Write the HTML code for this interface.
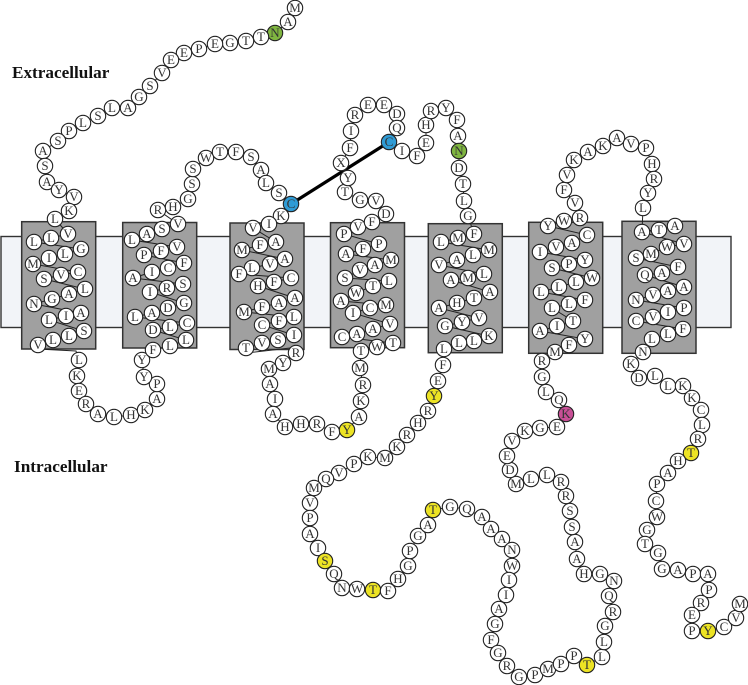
<!DOCTYPE html>
<html><head><meta charset="utf-8"><style>
html,body{margin:0;padding:0;background:#fff;width:748px;height:685px;overflow:hidden}
svg{display:block}
.r circle{fill:#fff;stroke:#222;stroke-width:1.1}
.r text{font:13px "Liberation Serif",serif;fill:#333;text-anchor:middle}
circle.g{fill:#7fb540!important}circle.b{fill:#2f9bd5!important}circle.y{fill:#ece324!important}circle.m{fill:#c84f96!important}
.l{font:bold 17.2px "Liberation Serif",serif;fill:#111}
</style></head><body>
<svg width="748" height="685" viewBox="0 0 748 685" xmlns="http://www.w3.org/2000/svg">
<rect x="1" y="236.5" width="730" height="91" fill="#f2f4f8" stroke="#333" stroke-width="1.4"/>
<g fill="#a0a0a0" stroke="#333" stroke-width="1.5">
<rect x="21.7" y="221.7" width="74" height="127.3"/>
<rect x="122.7" y="222.5" width="74" height="125.5"/>
<rect x="230" y="223" width="74" height="126.5"/>
<rect x="330.5" y="222.7" width="74" height="125"/>
<rect x="428.3" y="223.7" width="74" height="129"/>
<rect x="528.7" y="222.3" width="74" height="131"/>
<rect x="622" y="221.3" width="74" height="132"/>
</g>
<polyline fill="none" stroke="#222" stroke-width="1" points="295,8 288,22 275,33 261,37 246,41 230,43 215,44 199,49 184,53 171,60 162,73 150,86 139,97 128,108 112,108 98,116 83,123 69,131 58,141 43,151 45,166 47,182 59,190 74,197 69,211 55,219 68,234 51,238 34,242 81,249 65,254 49,258 33,264 78,272 61,275 44,279 85,289 69,294 52,299 34,304 81,313 66,316 49,320 84,331 69,336 53,340 38,345 38,349 76,351 79,360 77,376 79,391 86,404 98,414 114,417 131,415 145,410 157,399 157,384 144,377 142,360 153,350 170,346 186,340 153,330 170,327 187,323 135,317 152,313 168,308 184,303 150,292 167,288 183,284 133,278 152,272 168,268 184,263 144,255 161,251 177,247 132,240 147,234 162,229 178,224 158,210 173,207 188,199 192,184 193,169 206,158 220,152 236,152 251,157 261,170 266,183 279,193 291,204 281,216 269,224 253,228 276,242 260,245 242,250 285,259 270,264 252,268 239,274 291,278 274,282 258,286 295,298 279,303 262,307 244,312 294,317 279,321 262,325 294,335 278,340 262,343 246,348 246,353 290,348 296,353 283,363 269,369 270,384 275,399 273,414 285,427 301,424 317,424 332,432 347,430 359,417 361,401 363,385 360,368 361,351 377,347 393,343 342,337 357,334 373,329 390,324 353,313 370,308 386,305 341,301 356,293 373,286 389,281 345,278 360,270 375,265 391,260 346,254 363,249 379,244 344,234 358,227 372,222 386,214 376,201 360,200 345,192 348,178 341,163 350,148 351,131 355,115 368,105 384,105 397,114 397,128 389,142 402,151 417,156 426,143 426,125 431,111 446,108 457,120 458,136 459,151 459,168 463,184 464,201 468,216 474,234 458,238 441,242 489,250 473,255 457,260 439,265 484,274 468,278 451,280 490,292 474,298 457,303 439,308 479,318 462,322 445,326 489,336 474,341 459,343 444,349 443,365 438,381 434,396 428,411 418,423 407,435 397,447 385,458 368,457 354,464 339,473 326,479 314,488 310,503 310,518 310,534 318,548 325,561 334,574 342,588 357,589 373,590 388,591 398,579 408,566 410,551 418,536 428,525 433,510 450,507 467,509 482,517 491,529 502,539 512,550 512,566 509,580 506,595 499,609 495,624 491,640 498,653 507,666 519,677 535,675 548,669 561,664 574,656 587,665 602,657 604,642 605,626 613,612 609,596 614,581 600,574 584,574 577,559 575,542 572,527 570,511 566,496 561,482 547,475 531,479 516,484 510,470 507,456 512,441 525,431 540,428 557,427 566,414 559,400 546,392 542,377 542,361 555,352 569,345 585,339 540,331 557,326 573,321 552,308 569,304 585,300 541,292 559,287 576,282 592,278 552,268 569,264 585,260 540,252 556,247 572,243 587,235 548,226 564,221 580,218 575,203 564,190 567,175 574,160 588,152 603,146 617,138 631,144 646,148 652,164 654,179 648,193 643,208 642,232 659,230 675,226 642,232 684,244 667,247 651,254 636,258 678,267 662,273 645,275 684,287 668,291 653,295 636,300 684,308 668,312 653,317 636,321 683,329 668,334 652,339 643,352 631,364 639,378 655,376 668,386 683,386 692,398 701,410 702,425 698,439 691,453 678,461 668,473 657,484 656,501 657,517 647,530 645,544 658,553 662,569 678,570 693,574 708,574 709,590 701,603 692,615 692,631 708,631 724,627 736,618 740,604"/>
<line x1="291" y1="204" x2="389" y2="142" stroke="#000" stroke-width="3.2"/>
<g class="r">
<circle cx="295" cy="8" r="7.7"/><text x="295" y="12">M</text>
<circle cx="288" cy="22" r="7.7"/><text x="288" y="26">A</text>
<circle class="g" cx="275" cy="33" r="7.7"/><text x="275" y="37">N</text>
<circle cx="261" cy="37" r="7.7"/><text x="261" y="41">T</text>
<circle cx="246" cy="41" r="7.7"/><text x="246" y="45">T</text>
<circle cx="230" cy="43" r="7.7"/><text x="230" y="47">G</text>
<circle cx="215" cy="44" r="7.7"/><text x="215" y="48">E</text>
<circle cx="199" cy="49" r="7.7"/><text x="199" y="53">P</text>
<circle cx="184" cy="53" r="7.7"/><text x="184" y="57">E</text>
<circle cx="171" cy="60" r="7.7"/><text x="171" y="64">E</text>
<circle cx="162" cy="73" r="7.7"/><text x="162" y="77">V</text>
<circle cx="150" cy="86" r="7.7"/><text x="150" y="90">S</text>
<circle cx="139" cy="97" r="7.7"/><text x="139" y="101">G</text>
<circle cx="128" cy="108" r="7.7"/><text x="128" y="112">A</text>
<circle cx="112" cy="108" r="7.7"/><text x="112" y="112">L</text>
<circle cx="98" cy="116" r="7.7"/><text x="98" y="120">S</text>
<circle cx="83" cy="123" r="7.7"/><text x="83" y="127">L</text>
<circle cx="69" cy="131" r="7.7"/><text x="69" y="135">P</text>
<circle cx="58" cy="141" r="7.7"/><text x="58" y="145">S</text>
<circle cx="43" cy="151" r="7.7"/><text x="43" y="155">A</text>
<circle cx="45" cy="166" r="7.7"/><text x="45" y="170">S</text>
<circle cx="47" cy="182" r="7.7"/><text x="47" y="186">A</text>
<circle cx="59" cy="190" r="7.7"/><text x="59" y="194">Y</text>
<circle cx="74" cy="197" r="7.7"/><text x="74" y="201">V</text>
<circle cx="69" cy="211" r="7.7"/><text x="69" y="215">K</text>
<circle cx="55" cy="219" r="7.7"/><text x="55" y="223">L</text>
<circle cx="68" cy="234" r="7.7"/><text x="68" y="238">V</text>
<circle cx="51" cy="238" r="7.7"/><text x="51" y="242">L</text>
<circle cx="34" cy="242" r="7.7"/><text x="34" y="246">L</text>
<circle cx="81" cy="249" r="7.7"/><text x="81" y="253">G</text>
<circle cx="65" cy="254" r="7.7"/><text x="65" y="258">L</text>
<circle cx="49" cy="258" r="7.7"/><text x="49" y="262">I</text>
<circle cx="33" cy="264" r="7.7"/><text x="33" y="268">M</text>
<circle cx="78" cy="272" r="7.7"/><text x="78" y="276">C</text>
<circle cx="61" cy="275" r="7.7"/><text x="61" y="279">V</text>
<circle cx="44" cy="279" r="7.7"/><text x="44" y="283">S</text>
<circle cx="85" cy="289" r="7.7"/><text x="85" y="293">L</text>
<circle cx="69" cy="294" r="7.7"/><text x="69" y="298">A</text>
<circle cx="52" cy="299" r="7.7"/><text x="52" y="303">G</text>
<circle cx="34" cy="304" r="7.7"/><text x="34" y="308">N</text>
<circle cx="81" cy="313" r="7.7"/><text x="81" y="317">A</text>
<circle cx="66" cy="316" r="7.7"/><text x="66" y="320">I</text>
<circle cx="49" cy="320" r="7.7"/><text x="49" y="324">L</text>
<circle cx="84" cy="331" r="7.7"/><text x="84" y="335">S</text>
<circle cx="69" cy="336" r="7.7"/><text x="69" y="340">L</text>
<circle cx="53" cy="340" r="7.7"/><text x="53" y="344">L</text>
<circle cx="38" cy="345" r="7.7"/><text x="38" y="349">V</text>
<circle cx="79" cy="360" r="7.7"/><text x="79" y="364">L</text>
<circle cx="77" cy="376" r="7.7"/><text x="77" y="380">K</text>
<circle cx="79" cy="391" r="7.7"/><text x="79" y="395">E</text>
<circle cx="86" cy="404" r="7.7"/><text x="86" y="408">R</text>
<circle cx="98" cy="414" r="7.7"/><text x="98" y="418">A</text>
<circle cx="114" cy="417" r="7.7"/><text x="114" y="421">L</text>
<circle cx="131" cy="415" r="7.7"/><text x="131" y="419">H</text>
<circle cx="145" cy="410" r="7.7"/><text x="145" y="414">K</text>
<circle cx="157" cy="399" r="7.7"/><text x="157" y="403">A</text>
<circle cx="157" cy="384" r="7.7"/><text x="157" y="388">P</text>
<circle cx="144" cy="377" r="7.7"/><text x="144" y="381">Y</text>
<circle cx="142" cy="360" r="7.7"/><text x="142" y="364">Y</text>
<circle cx="153" cy="350" r="7.7"/><text x="153" y="354">F</text>
<circle cx="170" cy="346" r="7.7"/><text x="170" y="350">L</text>
<circle cx="186" cy="340" r="7.7"/><text x="186" y="344">L</text>
<circle cx="153" cy="330" r="7.7"/><text x="153" y="334">D</text>
<circle cx="170" cy="327" r="7.7"/><text x="170" y="331">L</text>
<circle cx="187" cy="323" r="7.7"/><text x="187" y="327">C</text>
<circle cx="135" cy="317" r="7.7"/><text x="135" y="321">L</text>
<circle cx="152" cy="313" r="7.7"/><text x="152" y="317">A</text>
<circle cx="168" cy="308" r="7.7"/><text x="168" y="312">D</text>
<circle cx="184" cy="303" r="7.7"/><text x="184" y="307">G</text>
<circle cx="150" cy="292" r="7.7"/><text x="150" y="296">I</text>
<circle cx="167" cy="288" r="7.7"/><text x="167" y="292">R</text>
<circle cx="183" cy="284" r="7.7"/><text x="183" y="288">S</text>
<circle cx="133" cy="278" r="7.7"/><text x="133" y="282">A</text>
<circle cx="152" cy="272" r="7.7"/><text x="152" y="276">I</text>
<circle cx="168" cy="268" r="7.7"/><text x="168" y="272">C</text>
<circle cx="184" cy="263" r="7.7"/><text x="184" y="267">F</text>
<circle cx="144" cy="255" r="7.7"/><text x="144" y="259">P</text>
<circle cx="161" cy="251" r="7.7"/><text x="161" y="255">F</text>
<circle cx="177" cy="247" r="7.7"/><text x="177" y="251">V</text>
<circle cx="132" cy="240" r="7.7"/><text x="132" y="244">L</text>
<circle cx="147" cy="234" r="7.7"/><text x="147" y="238">A</text>
<circle cx="162" cy="229" r="7.7"/><text x="162" y="233">S</text>
<circle cx="178" cy="224" r="7.7"/><text x="178" y="228">V</text>
<circle cx="158" cy="210" r="7.7"/><text x="158" y="214">R</text>
<circle cx="173" cy="207" r="7.7"/><text x="173" y="211">H</text>
<circle cx="188" cy="199" r="7.7"/><text x="188" y="203">G</text>
<circle cx="192" cy="184" r="7.7"/><text x="192" y="188">S</text>
<circle cx="193" cy="169" r="7.7"/><text x="193" y="173">S</text>
<circle cx="206" cy="158" r="7.7"/><text x="206" y="162">W</text>
<circle cx="220" cy="152" r="7.7"/><text x="220" y="156">T</text>
<circle cx="236" cy="152" r="7.7"/><text x="236" y="156">F</text>
<circle cx="251" cy="157" r="7.7"/><text x="251" y="161">S</text>
<circle cx="261" cy="170" r="7.7"/><text x="261" y="174">A</text>
<circle cx="266" cy="183" r="7.7"/><text x="266" y="187">L</text>
<circle cx="279" cy="193" r="7.7"/><text x="279" y="197">S</text>
<circle class="b" cx="291" cy="204" r="7.7"/><text x="291" y="208">C</text>
<circle cx="281" cy="216" r="7.7"/><text x="281" y="220">K</text>
<circle cx="269" cy="224" r="7.7"/><text x="269" y="228">I</text>
<circle cx="253" cy="228" r="7.7"/><text x="253" y="232">V</text>
<circle cx="276" cy="242" r="7.7"/><text x="276" y="246">A</text>
<circle cx="260" cy="245" r="7.7"/><text x="260" y="249">F</text>
<circle cx="242" cy="250" r="7.7"/><text x="242" y="254">M</text>
<circle cx="285" cy="259" r="7.7"/><text x="285" y="263">A</text>
<circle cx="270" cy="264" r="7.7"/><text x="270" y="268">V</text>
<circle cx="252" cy="268" r="7.7"/><text x="252" y="272">L</text>
<circle cx="239" cy="274" r="7.7"/><text x="239" y="278">F</text>
<circle cx="291" cy="278" r="7.7"/><text x="291" y="282">C</text>
<circle cx="274" cy="282" r="7.7"/><text x="274" y="286">F</text>
<circle cx="258" cy="286" r="7.7"/><text x="258" y="290">H</text>
<circle cx="295" cy="298" r="7.7"/><text x="295" y="302">A</text>
<circle cx="279" cy="303" r="7.7"/><text x="279" y="307">A</text>
<circle cx="262" cy="307" r="7.7"/><text x="262" y="311">F</text>
<circle cx="244" cy="312" r="7.7"/><text x="244" y="316">M</text>
<circle cx="294" cy="317" r="7.7"/><text x="294" y="321">L</text>
<circle cx="279" cy="321" r="7.7"/><text x="279" y="325">F</text>
<circle cx="262" cy="325" r="7.7"/><text x="262" y="329">C</text>
<circle cx="294" cy="335" r="7.7"/><text x="294" y="339">I</text>
<circle cx="278" cy="340" r="7.7"/><text x="278" y="344">S</text>
<circle cx="262" cy="343" r="7.7"/><text x="262" y="347">V</text>
<circle cx="246" cy="348" r="7.7"/><text x="246" y="352">T</text>
<circle cx="296" cy="353" r="7.7"/><text x="296" y="357">R</text>
<circle cx="283" cy="363" r="7.7"/><text x="283" y="367">Y</text>
<circle cx="269" cy="369" r="7.7"/><text x="269" y="373">M</text>
<circle cx="270" cy="384" r="7.7"/><text x="270" y="388">A</text>
<circle cx="275" cy="399" r="7.7"/><text x="275" y="403">I</text>
<circle cx="273" cy="414" r="7.7"/><text x="273" y="418">A</text>
<circle cx="285" cy="427" r="7.7"/><text x="285" y="431">H</text>
<circle cx="301" cy="424" r="7.7"/><text x="301" y="428">H</text>
<circle cx="317" cy="424" r="7.7"/><text x="317" y="428">R</text>
<circle cx="332" cy="432" r="7.7"/><text x="332" y="436">F</text>
<circle class="y" cx="347" cy="430" r="7.7"/><text x="347" y="434">Y</text>
<circle cx="359" cy="417" r="7.7"/><text x="359" y="421">A</text>
<circle cx="361" cy="401" r="7.7"/><text x="361" y="405">K</text>
<circle cx="363" cy="385" r="7.7"/><text x="363" y="389">R</text>
<circle cx="360" cy="368" r="7.7"/><text x="360" y="372">M</text>
<circle cx="361" cy="351" r="7.7"/><text x="361" y="355">T</text>
<circle cx="377" cy="347" r="7.7"/><text x="377" y="351">W</text>
<circle cx="393" cy="343" r="7.7"/><text x="393" y="347">T</text>
<circle cx="342" cy="337" r="7.7"/><text x="342" y="341">C</text>
<circle cx="357" cy="334" r="7.7"/><text x="357" y="338">A</text>
<circle cx="373" cy="329" r="7.7"/><text x="373" y="333">A</text>
<circle cx="390" cy="324" r="7.7"/><text x="390" y="328">V</text>
<circle cx="353" cy="313" r="7.7"/><text x="353" y="317">I</text>
<circle cx="370" cy="308" r="7.7"/><text x="370" y="312">C</text>
<circle cx="386" cy="305" r="7.7"/><text x="386" y="309">M</text>
<circle cx="341" cy="301" r="7.7"/><text x="341" y="305">A</text>
<circle cx="356" cy="293" r="7.7"/><text x="356" y="297">W</text>
<circle cx="373" cy="286" r="7.7"/><text x="373" y="290">T</text>
<circle cx="389" cy="281" r="7.7"/><text x="389" y="285">L</text>
<circle cx="345" cy="278" r="7.7"/><text x="345" y="282">S</text>
<circle cx="360" cy="270" r="7.7"/><text x="360" y="274">V</text>
<circle cx="375" cy="265" r="7.7"/><text x="375" y="269">A</text>
<circle cx="391" cy="260" r="7.7"/><text x="391" y="264">M</text>
<circle cx="346" cy="254" r="7.7"/><text x="346" y="258">A</text>
<circle cx="363" cy="249" r="7.7"/><text x="363" y="253">F</text>
<circle cx="379" cy="244" r="7.7"/><text x="379" y="248">P</text>
<circle cx="344" cy="234" r="7.7"/><text x="344" y="238">P</text>
<circle cx="358" cy="227" r="7.7"/><text x="358" y="231">V</text>
<circle cx="372" cy="222" r="7.7"/><text x="372" y="226">F</text>
<circle cx="386" cy="214" r="7.7"/><text x="386" y="218">D</text>
<circle cx="376" cy="201" r="7.7"/><text x="376" y="205">V</text>
<circle cx="360" cy="200" r="7.7"/><text x="360" y="204">G</text>
<circle cx="345" cy="192" r="7.7"/><text x="345" y="196">T</text>
<circle cx="348" cy="178" r="7.7"/><text x="348" y="182">Y</text>
<circle cx="341" cy="163" r="7.7"/><text x="341" y="167">X</text>
<circle cx="350" cy="148" r="7.7"/><text x="350" y="152">F</text>
<circle cx="351" cy="131" r="7.7"/><text x="351" y="135">I</text>
<circle cx="355" cy="115" r="7.7"/><text x="355" y="119">R</text>
<circle cx="368" cy="105" r="7.7"/><text x="368" y="109">E</text>
<circle cx="384" cy="105" r="7.7"/><text x="384" y="109">E</text>
<circle cx="397" cy="114" r="7.7"/><text x="397" y="118">D</text>
<circle cx="397" cy="128" r="7.7"/><text x="397" y="132">Q</text>
<circle class="b" cx="389" cy="142" r="7.7"/><text x="389" y="146">C</text>
<circle cx="402" cy="151" r="7.7"/><text x="402" y="155">I</text>
<circle cx="417" cy="156" r="7.7"/><text x="417" y="160">F</text>
<circle cx="426" cy="143" r="7.7"/><text x="426" y="147">E</text>
<circle cx="426" cy="125" r="7.7"/><text x="426" y="129">H</text>
<circle cx="431" cy="111" r="7.7"/><text x="431" y="115">R</text>
<circle cx="446" cy="108" r="7.7"/><text x="446" y="112">Y</text>
<circle cx="457" cy="120" r="7.7"/><text x="457" y="124">F</text>
<circle cx="458" cy="136" r="7.7"/><text x="458" y="140">A</text>
<circle class="g" cx="459" cy="151" r="7.7"/><text x="459" y="155">N</text>
<circle cx="459" cy="168" r="7.7"/><text x="459" y="172">D</text>
<circle cx="463" cy="184" r="7.7"/><text x="463" y="188">T</text>
<circle cx="464" cy="201" r="7.7"/><text x="464" y="205">L</text>
<circle cx="468" cy="216" r="7.7"/><text x="468" y="220">G</text>
<circle cx="474" cy="234" r="7.7"/><text x="474" y="238">F</text>
<circle cx="458" cy="238" r="7.7"/><text x="458" y="242">M</text>
<circle cx="441" cy="242" r="7.7"/><text x="441" y="246">L</text>
<circle cx="489" cy="250" r="7.7"/><text x="489" y="254">M</text>
<circle cx="473" cy="255" r="7.7"/><text x="473" y="259">L</text>
<circle cx="457" cy="260" r="7.7"/><text x="457" y="264">A</text>
<circle cx="439" cy="265" r="7.7"/><text x="439" y="269">V</text>
<circle cx="484" cy="274" r="7.7"/><text x="484" y="278">L</text>
<circle cx="468" cy="278" r="7.7"/><text x="468" y="282">M</text>
<circle cx="451" cy="280" r="7.7"/><text x="451" y="284">A</text>
<circle cx="490" cy="292" r="7.7"/><text x="490" y="296">A</text>
<circle cx="474" cy="298" r="7.7"/><text x="474" y="302">T</text>
<circle cx="457" cy="303" r="7.7"/><text x="457" y="307">H</text>
<circle cx="439" cy="308" r="7.7"/><text x="439" y="312">A</text>
<circle cx="479" cy="318" r="7.7"/><text x="479" y="322">V</text>
<circle cx="462" cy="322" r="7.7"/><text x="462" y="326">Y</text>
<circle cx="445" cy="326" r="7.7"/><text x="445" y="330">G</text>
<circle cx="489" cy="336" r="7.7"/><text x="489" y="340">K</text>
<circle cx="474" cy="341" r="7.7"/><text x="474" y="345">L</text>
<circle cx="459" cy="343" r="7.7"/><text x="459" y="347">L</text>
<circle cx="444" cy="349" r="7.7"/><text x="444" y="353">L</text>
<circle cx="443" cy="365" r="7.7"/><text x="443" y="369">F</text>
<circle cx="438" cy="381" r="7.7"/><text x="438" y="385">E</text>
<circle class="y" cx="434" cy="396" r="7.7"/><text x="434" y="400">Y</text>
<circle cx="428" cy="411" r="7.7"/><text x="428" y="415">R</text>
<circle cx="418" cy="423" r="7.7"/><text x="418" y="427">H</text>
<circle cx="407" cy="435" r="7.7"/><text x="407" y="439">R</text>
<circle cx="397" cy="447" r="7.7"/><text x="397" y="451">K</text>
<circle cx="385" cy="458" r="7.7"/><text x="385" y="462">M</text>
<circle cx="368" cy="457" r="7.7"/><text x="368" y="461">K</text>
<circle cx="354" cy="464" r="7.7"/><text x="354" y="468">P</text>
<circle cx="339" cy="473" r="7.7"/><text x="339" y="477">V</text>
<circle cx="326" cy="479" r="7.7"/><text x="326" y="483">Q</text>
<circle cx="314" cy="488" r="7.7"/><text x="314" y="492">M</text>
<circle cx="310" cy="503" r="7.7"/><text x="310" y="507">V</text>
<circle cx="310" cy="518" r="7.7"/><text x="310" y="522">P</text>
<circle cx="310" cy="534" r="7.7"/><text x="310" y="538">A</text>
<circle cx="318" cy="548" r="7.7"/><text x="318" y="552">I</text>
<circle class="y" cx="325" cy="561" r="7.7"/><text x="325" y="565">S</text>
<circle cx="334" cy="574" r="7.7"/><text x="334" y="578">Q</text>
<circle cx="342" cy="588" r="7.7"/><text x="342" y="592">N</text>
<circle cx="357" cy="589" r="7.7"/><text x="357" y="593">W</text>
<circle class="y" cx="373" cy="590" r="7.7"/><text x="373" y="594">T</text>
<circle cx="388" cy="591" r="7.7"/><text x="388" y="595">F</text>
<circle cx="398" cy="579" r="7.7"/><text x="398" y="583">H</text>
<circle cx="408" cy="566" r="7.7"/><text x="408" y="570">G</text>
<circle cx="410" cy="551" r="7.7"/><text x="410" y="555">P</text>
<circle cx="418" cy="536" r="7.7"/><text x="418" y="540">G</text>
<circle cx="428" cy="525" r="7.7"/><text x="428" y="529">A</text>
<circle class="y" cx="433" cy="510" r="7.7"/><text x="433" y="514">T</text>
<circle cx="450" cy="507" r="7.7"/><text x="450" y="511">G</text>
<circle cx="467" cy="509" r="7.7"/><text x="467" y="513">Q</text>
<circle cx="482" cy="517" r="7.7"/><text x="482" y="521">A</text>
<circle cx="491" cy="529" r="7.7"/><text x="491" y="533">A</text>
<circle cx="502" cy="539" r="7.7"/><text x="502" y="543">A</text>
<circle cx="512" cy="550" r="7.7"/><text x="512" y="554">N</text>
<circle cx="512" cy="566" r="7.7"/><text x="512" y="570">W</text>
<circle cx="509" cy="580" r="7.7"/><text x="509" y="584">I</text>
<circle cx="506" cy="595" r="7.7"/><text x="506" y="599">I</text>
<circle cx="499" cy="609" r="7.7"/><text x="499" y="613">A</text>
<circle cx="495" cy="624" r="7.7"/><text x="495" y="628">G</text>
<circle cx="491" cy="640" r="7.7"/><text x="491" y="644">F</text>
<circle cx="498" cy="653" r="7.7"/><text x="498" y="657">G</text>
<circle cx="507" cy="666" r="7.7"/><text x="507" y="670">R</text>
<circle cx="519" cy="677" r="7.7"/><text x="519" y="681">G</text>
<circle cx="535" cy="675" r="7.7"/><text x="535" y="679">P</text>
<circle cx="548" cy="669" r="7.7"/><text x="548" y="673">M</text>
<circle cx="561" cy="664" r="7.7"/><text x="561" y="668">P</text>
<circle cx="574" cy="656" r="7.7"/><text x="574" y="660">P</text>
<circle class="y" cx="587" cy="665" r="7.7"/><text x="587" y="669">T</text>
<circle cx="602" cy="657" r="7.7"/><text x="602" y="661">L</text>
<circle cx="604" cy="642" r="7.7"/><text x="604" y="646">L</text>
<circle cx="605" cy="626" r="7.7"/><text x="605" y="630">G</text>
<circle cx="613" cy="612" r="7.7"/><text x="613" y="616">R</text>
<circle cx="609" cy="596" r="7.7"/><text x="609" y="600">Q</text>
<circle cx="614" cy="581" r="7.7"/><text x="614" y="585">N</text>
<circle cx="600" cy="574" r="7.7"/><text x="600" y="578">G</text>
<circle cx="584" cy="574" r="7.7"/><text x="584" y="578">H</text>
<circle cx="577" cy="559" r="7.7"/><text x="577" y="563">A</text>
<circle cx="575" cy="542" r="7.7"/><text x="575" y="546">A</text>
<circle cx="572" cy="527" r="7.7"/><text x="572" y="531">S</text>
<circle cx="570" cy="511" r="7.7"/><text x="570" y="515">S</text>
<circle cx="566" cy="496" r="7.7"/><text x="566" y="500">R</text>
<circle cx="561" cy="482" r="7.7"/><text x="561" y="486">R</text>
<circle cx="547" cy="475" r="7.7"/><text x="547" y="479">L</text>
<circle cx="531" cy="479" r="7.7"/><text x="531" y="483">L</text>
<circle cx="516" cy="484" r="7.7"/><text x="516" y="488">M</text>
<circle cx="510" cy="470" r="7.7"/><text x="510" y="474">D</text>
<circle cx="507" cy="456" r="7.7"/><text x="507" y="460">E</text>
<circle cx="512" cy="441" r="7.7"/><text x="512" y="445">V</text>
<circle cx="525" cy="431" r="7.7"/><text x="525" y="435">K</text>
<circle cx="540" cy="428" r="7.7"/><text x="540" y="432">G</text>
<circle cx="557" cy="427" r="7.7"/><text x="557" y="431">E</text>
<circle class="m" cx="566" cy="414" r="7.7"/><text x="566" y="418">K</text>
<circle cx="559" cy="400" r="7.7"/><text x="559" y="404">Q</text>
<circle cx="546" cy="392" r="7.7"/><text x="546" y="396">L</text>
<circle cx="542" cy="377" r="7.7"/><text x="542" y="381">G</text>
<circle cx="542" cy="361" r="7.7"/><text x="542" y="365">R</text>
<circle cx="555" cy="352" r="7.7"/><text x="555" y="356">M</text>
<circle cx="569" cy="345" r="7.7"/><text x="569" y="349">F</text>
<circle cx="585" cy="339" r="7.7"/><text x="585" y="343">Y</text>
<circle cx="540" cy="331" r="7.7"/><text x="540" y="335">A</text>
<circle cx="557" cy="326" r="7.7"/><text x="557" y="330">I</text>
<circle cx="573" cy="321" r="7.7"/><text x="573" y="325">T</text>
<circle cx="552" cy="308" r="7.7"/><text x="552" y="312">L</text>
<circle cx="569" cy="304" r="7.7"/><text x="569" y="308">L</text>
<circle cx="585" cy="300" r="7.7"/><text x="585" y="304">F</text>
<circle cx="541" cy="292" r="7.7"/><text x="541" y="296">L</text>
<circle cx="559" cy="287" r="7.7"/><text x="559" y="291">L</text>
<circle cx="576" cy="282" r="7.7"/><text x="576" y="286">L</text>
<circle cx="592" cy="278" r="7.7"/><text x="592" y="282">W</text>
<circle cx="552" cy="268" r="7.7"/><text x="552" y="272">S</text>
<circle cx="569" cy="264" r="7.7"/><text x="569" y="268">P</text>
<circle cx="585" cy="260" r="7.7"/><text x="585" y="264">Y</text>
<circle cx="540" cy="252" r="7.7"/><text x="540" y="256">I</text>
<circle cx="556" cy="247" r="7.7"/><text x="556" y="251">V</text>
<circle cx="572" cy="243" r="7.7"/><text x="572" y="247">A</text>
<circle cx="587" cy="235" r="7.7"/><text x="587" y="239">C</text>
<circle cx="548" cy="226" r="7.7"/><text x="548" y="230">Y</text>
<circle cx="564" cy="221" r="7.7"/><text x="564" y="225">W</text>
<circle cx="580" cy="218" r="7.7"/><text x="580" y="222">R</text>
<circle cx="575" cy="203" r="7.7"/><text x="575" y="207">V</text>
<circle cx="564" cy="190" r="7.7"/><text x="564" y="194">F</text>
<circle cx="567" cy="175" r="7.7"/><text x="567" y="179">V</text>
<circle cx="574" cy="160" r="7.7"/><text x="574" y="164">K</text>
<circle cx="588" cy="152" r="7.7"/><text x="588" y="156">A</text>
<circle cx="603" cy="146" r="7.7"/><text x="603" y="150">K</text>
<circle cx="617" cy="138" r="7.7"/><text x="617" y="142">A</text>
<circle cx="631" cy="144" r="7.7"/><text x="631" y="148">V</text>
<circle cx="646" cy="148" r="7.7"/><text x="646" y="152">P</text>
<circle cx="652" cy="164" r="7.7"/><text x="652" y="168">H</text>
<circle cx="654" cy="179" r="7.7"/><text x="654" y="183">R</text>
<circle cx="648" cy="193" r="7.7"/><text x="648" y="197">Y</text>
<circle cx="643" cy="208" r="7.7"/><text x="643" y="212">L</text>
<circle cx="642" cy="232" r="7.7"/><text x="642" y="236">A</text>
<circle cx="659" cy="230" r="7.7"/><text x="659" y="234">T</text>
<circle cx="675" cy="226" r="7.7"/><text x="675" y="230">A</text>
<circle cx="636" cy="258" r="7.7"/><text x="636" y="262">S</text>
<circle cx="651" cy="254" r="7.7"/><text x="651" y="258">M</text>
<circle cx="667" cy="247" r="7.7"/><text x="667" y="251">W</text>
<circle cx="684" cy="244" r="7.7"/><text x="684" y="248">V</text>
<circle cx="645" cy="275" r="7.7"/><text x="645" y="279">Q</text>
<circle cx="662" cy="273" r="7.7"/><text x="662" y="277">A</text>
<circle cx="678" cy="267" r="7.7"/><text x="678" y="271">F</text>
<circle cx="684" cy="287" r="7.7"/><text x="684" y="291">A</text>
<circle cx="668" cy="291" r="7.7"/><text x="668" y="295">A</text>
<circle cx="653" cy="295" r="7.7"/><text x="653" y="299">V</text>
<circle cx="636" cy="300" r="7.7"/><text x="636" y="304">N</text>
<circle cx="684" cy="308" r="7.7"/><text x="684" y="312">P</text>
<circle cx="668" cy="312" r="7.7"/><text x="668" y="316">I</text>
<circle cx="653" cy="317" r="7.7"/><text x="653" y="321">V</text>
<circle cx="636" cy="321" r="7.7"/><text x="636" y="325">C</text>
<circle cx="683" cy="329" r="7.7"/><text x="683" y="333">F</text>
<circle cx="668" cy="334" r="7.7"/><text x="668" y="338">L</text>
<circle cx="652" cy="339" r="7.7"/><text x="652" y="343">L</text>
<circle cx="643" cy="352" r="7.7"/><text x="643" y="356">N</text>
<circle cx="631" cy="364" r="7.7"/><text x="631" y="368">K</text>
<circle cx="639" cy="378" r="7.7"/><text x="639" y="382">D</text>
<circle cx="655" cy="376" r="7.7"/><text x="655" y="380">L</text>
<circle cx="668" cy="386" r="7.7"/><text x="668" y="390">L</text>
<circle cx="683" cy="386" r="7.7"/><text x="683" y="390">K</text>
<circle cx="692" cy="398" r="7.7"/><text x="692" y="402">K</text>
<circle cx="701" cy="410" r="7.7"/><text x="701" y="414">C</text>
<circle cx="702" cy="425" r="7.7"/><text x="702" y="429">L</text>
<circle cx="698" cy="439" r="7.7"/><text x="698" y="443">R</text>
<circle class="y" cx="691" cy="453" r="7.7"/><text x="691" y="457">T</text>
<circle cx="678" cy="461" r="7.7"/><text x="678" y="465">H</text>
<circle cx="668" cy="473" r="7.7"/><text x="668" y="477">A</text>
<circle cx="657" cy="484" r="7.7"/><text x="657" y="488">P</text>
<circle cx="656" cy="501" r="7.7"/><text x="656" y="505">C</text>
<circle cx="657" cy="517" r="7.7"/><text x="657" y="521">W</text>
<circle cx="647" cy="530" r="7.7"/><text x="647" y="534">G</text>
<circle cx="645" cy="544" r="7.7"/><text x="645" y="548">T</text>
<circle cx="658" cy="553" r="7.7"/><text x="658" y="557">G</text>
<circle cx="662" cy="569" r="7.7"/><text x="662" y="573">G</text>
<circle cx="678" cy="570" r="7.7"/><text x="678" y="574">A</text>
<circle cx="693" cy="574" r="7.7"/><text x="693" y="578">P</text>
<circle cx="708" cy="574" r="7.7"/><text x="708" y="578">A</text>
<circle cx="709" cy="590" r="7.7"/><text x="709" y="594">P</text>
<circle cx="701" cy="603" r="7.7"/><text x="701" y="607">R</text>
<circle cx="692" cy="615" r="7.7"/><text x="692" y="619">E</text>
<circle cx="692" cy="631" r="7.7"/><text x="692" y="635">P</text>
<circle class="y" cx="708" cy="631" r="7.7"/><text x="708" y="635">Y</text>
<circle cx="724" cy="627" r="7.7"/><text x="724" y="631">C</text>
<circle cx="736" cy="618" r="7.7"/><text x="736" y="622">V</text>
<circle cx="740" cy="604" r="7.7"/><text x="740" y="608">M</text>
</g>
<text class="l" x="12" y="78">Extracellular</text>
<text class="l" x="14" y="472">Intracellular</text>
</svg>
</body></html>
